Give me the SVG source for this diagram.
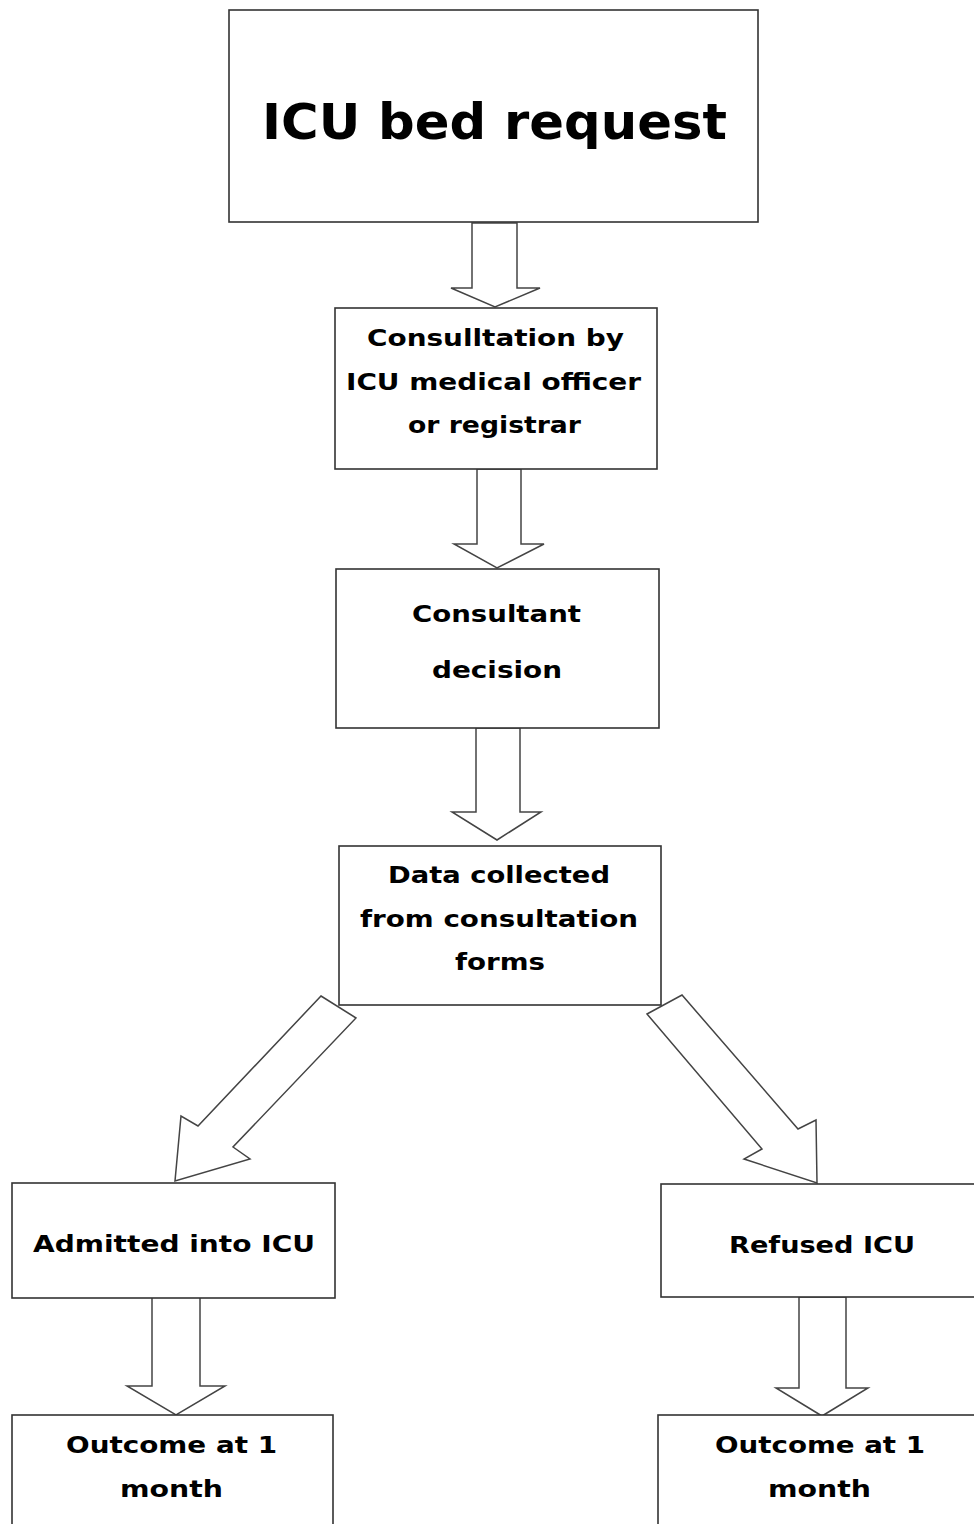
<svg xmlns="http://www.w3.org/2000/svg" width="974" height="1524" viewBox="0 0 974 1524">
<style>
.box{fill:#fff;stroke:#333;stroke-width:1.6}
.arr{fill:#fff;stroke:#444;stroke-width:1.5;stroke-linejoin:miter}
.t{font-family:"DejaVu Sans","Liberation Sans",sans-serif;font-weight:bold;font-size:23px;fill:#000;text-anchor:middle}
.big{font-size:49px}
</style>
<rect width="974" height="1524" fill="#fff"/>
<g id="connectors">
<polygon class="arr" points="472,223 517,223 517,288 540,288 495,307 451,288 472,288"/>
<polygon class="arr" points="477,469 521,469 521,544 544,544 497,568 454,544 477,544"/>
<polygon class="arr" points="476,728 520,728 520,812 541,812 497,840 452,812 476,812"/>
<polygon class="arr" points="321,996 356,1018 233,1147 250,1159 175,1181 181,1116 198,1126"/>
<polygon class="arr" points="647,1014 682,995 798,1129 816,1120 817,1183 744,1159 762,1149"/>
<polygon class="arr" points="152,1297 200,1297 200,1386 225,1386 176,1415 127,1386 152,1386"/>
<polygon class="arr" points="799,1297 846,1297 846,1388 868,1388 822,1416 776,1388 799,1388"/>
</g>
<g id="n1">
<rect class="box" x="229" y="10" width="529" height="212"/>
<text class="t big" x="494.5" y="139" textLength="465" lengthAdjust="spacingAndGlyphs">ICU bed request</text>
</g>
<g id="n2">
<rect class="box" x="335" y="308" width="322" height="161"/>
<text class="t" x="495.5" y="346" textLength="257" lengthAdjust="spacingAndGlyphs">Consulltation by</text>
<text class="t" x="493.5" y="390" textLength="295" lengthAdjust="spacingAndGlyphs">ICU medical officer</text>
<text class="t" x="494.5" y="433" textLength="173" lengthAdjust="spacingAndGlyphs">or registrar</text>
</g>
<g id="n3">
<rect class="box" x="336" y="569" width="323" height="159"/>
<text class="t" x="496.5" y="622" textLength="169" lengthAdjust="spacingAndGlyphs">Consultant</text>
<text class="t" x="497" y="678" textLength="130" lengthAdjust="spacingAndGlyphs">decision</text>
</g>
<g id="n4">
<rect class="box" x="339" y="846" width="322" height="159"/>
<text class="t" x="499" y="883" textLength="222" lengthAdjust="spacingAndGlyphs">Data collected</text>
<text class="t" x="499" y="927" textLength="278" lengthAdjust="spacingAndGlyphs">from consultation</text>
<text class="t" x="500" y="970" textLength="90" lengthAdjust="spacingAndGlyphs">forms</text>
</g>
<g id="n5">
<rect class="box" x="12" y="1183" width="323" height="115"/>
<text class="t" x="174" y="1252" textLength="282" lengthAdjust="spacingAndGlyphs">Admitted into ICU</text>
</g>
<g id="n6">
<rect class="box" x="661" y="1184" width="330" height="113"/>
<text class="t" x="822" y="1253" textLength="186" lengthAdjust="spacingAndGlyphs">Refused ICU</text>
</g>
<g id="n7">
<rect class="box" x="12" y="1415" width="321" height="130"/>
<text class="t" x="171.5" y="1453" textLength="211" lengthAdjust="spacingAndGlyphs">Outcome at 1</text>
<text class="t" x="171.5" y="1497" textLength="103" lengthAdjust="spacingAndGlyphs">month</text>
</g>
<g id="n8">
<rect class="box" x="658" y="1415" width="330" height="130"/>
<text class="t" x="820" y="1453" textLength="210" lengthAdjust="spacingAndGlyphs">Outcome at 1</text>
<text class="t" x="819.5" y="1497" textLength="103" lengthAdjust="spacingAndGlyphs">month</text>
</g>
</svg>
